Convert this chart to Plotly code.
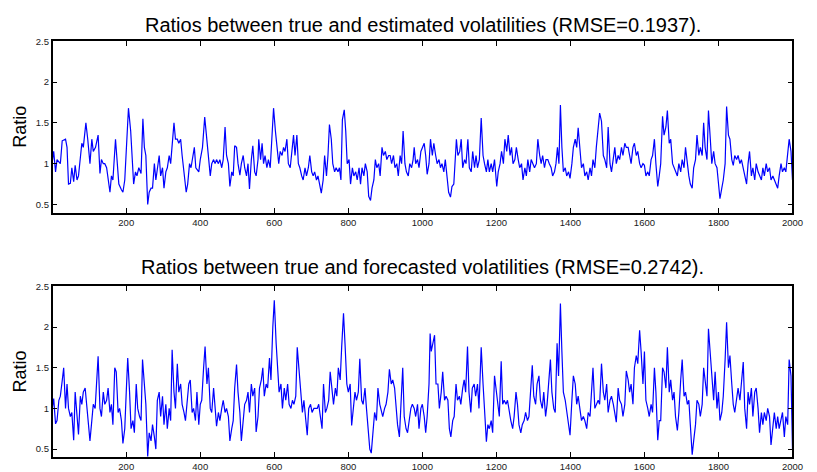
import plotly.graph_objects as go

# ---------------- data ----------------
# Upper panel: ratios between true and estimated volatilities
est_idx_1 = [0,4,9,13,22,27,36,40,44,49,53,58,62,67,71,76,80,84,91,96,
             102,107,111,117,124,129,133,138,142,147,151,156,160,164,171,175,180,187,191,196,
             200,206,212,216,220,225,229,234,240,245,249,253,258,262,267,271,276,280,284,289,
             293,298,302,307,311,316,320,324,329,333,338,342,347,351,356,362,366,371,375,380,
             384,388,396,400,406,412,418,422,427,431,436,440,444,449,453,458,462,467]
est_val_1 = [1.02,1.15,0.9,1.05,1.0,1.28,1.3,1.2,0.75,0.76,0.95,0.78,0.98,0.8,0.85,1.1,1.25,1.2,1.5,1.3,
             1.0,1.3,1.15,1.2,1.35,0.88,1.05,1.0,1.0,0.95,0.8,0.65,0.85,0.8,1.3,1.0,0.75,0.68,0.65,0.8,
             1.1,1.68,1.4,1.1,0.75,0.9,0.85,0.95,0.88,1.55,1.2,1.1,0.5,0.65,0.7,0.7,1.0,0.8,0.95,1.1,
             0.85,0.95,0.7,0.9,0.95,1.1,1.0,1.25,1.5,1.3,1.3,1.25,1.3,1.1,0.9,0.65,0.75,1.0,0.95,1.1,
             1.2,0.95,0.9,1.05,1.2,1.57,1.3,1.1,0.85,1.0,1.05,1.0,1.05,1.0,1.05,0.95,1.05,1.45]
est_idx_2 = [471,476,480,485,489,493,498,502,507,511,516,520,525,529,533,538,542,547,551,556,
             558,563,567,571,575,580,584,589,594,598,603,607,612,616,621,625,629,634,
             638,643,647,652,656,661,665,669,674,678,683,687,692,696,701,705,709,714,718,723,
             727,732,736,741,745,749,754,758,763,767,772,776,780,784,789,793,797,802,806,811,
             815,820,824,829,833,837,842,846,851,855,860,864,869,873,877,882,886,891,895,900,
             904,909,913,917,922,926,931,935,940,944,948,953,957,962,966,971,975]
est_val_2 = [1.1,1.0,0.72,0.9,0.85,1.22,1.2,1.0,0.86,1.0,1.1,0.95,0.85,1.0,0.69,1.05,1.22,0.9,0.85,1.05,
             1.3,1.05,1.25,1.0,1.1,0.95,1.05,0.95,1.38,1.68,1.4,1.2,1.0,1.15,1.1,1.2,1.15,1.3,
             1.0,0.95,1.1,1.35,1.1,1.35,1.0,0.95,0.85,0.8,0.95,0.85,0.95,1.1,0.9,0.85,0.9,0.8,0.85,0.7,
             0.64,0.8,1.1,0.85,1.1,1.48,1.3,1.0,0.9,0.95,0.9,0.95,0.8,1.54,1.66,1.4,1.0,1.05,0.75,0.95,
             0.85,0.9,0.8,0.95,0.75,0.95,0.85,1.0,0.9,0.6,0.55,0.7,0.8,1.05,0.95,1.0,0.85,1.2,1.1,1.15,
             1.05,1.1,1.1,1.0,1.1,0.95,1.0,0.85,1.1,1.0,1.4,1.0,0.9,0.85,1.0,0.95,1.05]
est_idx_3 = [978,982,987,991,996,1000,1005,1009,1013,1018,1022,1027,1031,1036,1040,1045,1049,1053,1058,1062,
             1067,1071,1076,1080,1085,1089,1092,1096,1101,1105,1109,1114,1118,1123,1127,1132,1136,1141,1145,1149,
             1154,1159,1164,1168,1173,1177,1181,1186,1190,1195,1201,1205,1210,1214,1219,1223,1228,1232,1237,1241,
             1245,1250,1254,1259,1263,1268,1272,1277,1281,1285,1290,1294,1299,1303,1308,1312,1317,1321,1325,1330,
             1334,1339,1343,1348,1352,1357,1361,1365,1369,1373,1377,1381,1386,1390,1395,1399,1404,1408,1413,1417,
             1421,1426,1430,1435,1439,1444,1448,1453,1457,1461,1466,1470,1475,1479]
est_val_3 = [1.2,1.0,1.05,0.95,1.15,1.2,1.25,1.1,0.87,1.0,1.3,1.1,1.25,1.1,1.0,1.05,0.95,1.0,0.9,1.05,
             0.85,0.65,0.59,0.72,0.75,1.0,1.3,1.1,1.15,1.3,0.95,1.05,1.0,1.3,0.95,0.9,1.15,0.95,1.1,0.95,
             1.05,1.56,1.1,1.0,0.9,1.05,0.9,1.0,0.9,1.05,0.72,0.9,1.0,1.15,1.0,1.3,1.15,1.35,1.1,1.2,
             1.0,1.05,1.2,1.05,0.95,1.0,0.8,0.95,0.85,1.05,0.9,1.05,1.0,0.95,1.0,1.3,1.1,1.0,1.1,0.95,
             1.05,1.05,1.0,0.95,0.85,0.9,1.0,1.2,1.0,1.72,1.2,0.9,0.95,0.85,0.9,0.82,1.0,1.2,1.3,1.2,
             1.44,1.1,0.95,1.0,0.85,0.9,0.8,0.95,0.85,1.05,0.95,1.2,1.4,1.62]
idx_4 = [1484,1489,1493,1498,1502,1507,1511,1516,1520,1524,1529,1533,1538,1542,1547,1551,1556,1560,1564,1569,
         1573,1578,1582,1587,1591,1596,1600,1604,1609,1613,1618,1622,1627,1631,1636,1640,1644,1649,1653,1658,
         1662,1667,1671,1676,1680,1684,1689,1693,1698,1702,1707,1711,1716,1720,1724,1729,1733,1738,1742,1747,
         1751,1756,1760,1764,1769,1773,1778,1782,1787,1791,1796,1800,1804,1809,1813,1818,1822,1827,1831,1836,
         1840,1844,1849,1853,1858,1862,1867,1871,1876,1880,1884,1889,1893,1898,1902,1907,1911,1916,1920,1924,
         1929,1933,1938,1942,1947,1951,1956,1960,1964,1969,1973,1978,1982,1987,1991,1996,1998,2000]
est_val_4 = [1.52,1.1,1.05,0.95,1.45,1.0,0.9,1.05,1.2,1.0,1.1,1.05,1.2,1.1,1.25,1.2,1.2,1.1,1.0,1.2,
             1.25,1.1,1.15,1.0,0.95,1.0,0.98,0.85,0.9,0.85,1.05,1.1,1.3,1.0,0.72,0.85,1.0,1.58,1.35,1.45,
             1.65,1.25,1.3,1.0,0.95,0.9,0.85,1.0,0.9,1.05,0.95,1.2,0.95,0.85,0.75,0.7,0.95,1.05,1.35,1.1,
             1.2,1.1,1.5,1.2,1.05,1.65,1.3,1.0,1.15,1.0,0.95,0.75,0.57,0.7,0.8,1.0,1.7,1.35,1.3,1.05,
             0.98,1.1,1.05,1.1,1.0,1.05,0.95,0.85,0.75,1.0,1.15,0.85,0.95,0.8,1.0,0.9,0.85,0.8,0.95,0.85,
             1.0,0.9,0.95,0.8,0.85,0.8,0.75,0.7,0.85,1.0,0.9,0.95,0.9,1.1,1.3,1.15,1.0,0.8]

# Lower panel: ratios between true and forecasted volatilities
fc_idx_1 = [0,4,9,13,18,22,27,31,36,40,44,49,53,58,62,67,71,76,80,84,
            89,93,98,102,107,111,116,120,124,129,133,138,142,147,151,156,160,164,169,173,
            178,182,187,191,196,200,204,209,213,218,222,227,231,236,240,244,249,253,258,262,
            267,271,276,280,284,289,293,298,302,307,311,316,320,324,329,333,338,342,347,351,
            356,360,364,369,373,378,382,387,391,396,400,404,409,413,418,422,427,431,436,440,
            444,449,453,458,462,467]
fc_val_1 = [1.0,1.12,0.81,0.85,1.1,1.15,1.34,1.5,1.0,1.3,1.0,0.9,0.95,0.61,1.2,0.85,0.68,1.15,1.05,1.2,
            1.25,1.05,0.8,0.6,0.85,1.05,1.0,1.35,1.64,1.0,0.9,1.2,1.05,1.1,1.25,0.95,1.05,0.8,1.5,1.45,
            0.95,1.0,0.85,0.57,0.75,1.2,1.62,1.2,0.75,0.85,0.7,1.3,1.0,0.9,0.85,1.6,1.3,1.05,0.41,0.7,
            0.6,0.8,0.65,0.5,1.1,1.2,0.9,1.15,0.8,1.05,0.75,1.0,0.85,1.72,1.2,1.0,1.55,1.2,1.3,1.05,
            0.95,0.85,1.05,1.3,1.35,0.95,1.0,0.85,1.2,0.8,1.05,1.1,1.5,1.76,1.3,1.5,1.0,0.95,1.25,1.0,
            0.78,0.95,0.85,1.0,1.1,0.95]
fc_idx_2 = [471,476,480,485,489,493,498,502,507,511,516,520,525,529,533,538,542,547,551,556,
            560,565,569,573,578,582,587,591,596,600,605,609,613,618,622,627,631,636,640,645,
            649,653,658,662,667,671,676,680,685,689,693,698,702,707,711,716,720,725,729,733,
            738,742,747,751,756,760,765,769,773,778,782,787,791,796,800,805,809,813,818,822,
            827,831,836,840,845,849,853,858,862,867,871,876,880,885,889,893,898,902,907,911,
            916,920,925,929,933,938,942,947,951,956,960,965,969,973]
fc_val_2 = [1.0,0.9,0.6,0.75,0.85,1.25,1.54,1.2,0.95,0.6,0.9,1.05,1.1,1.2,0.95,1.3,1.15,1.25,0.71,0.9,
            1.25,1.35,1.5,1.15,1.3,1.25,1.62,1.35,2.0,2.33,1.8,1.55,1.2,1.3,1.0,1.25,1.1,1.3,1.05,1.0,
            1.1,1.05,1.15,1.75,1.5,1.25,0.95,1.1,0.9,0.67,1.0,1.05,0.95,1.0,1.0,1.0,1.05,0.9,0.75,1.3,
            0.95,1.0,1.1,1.45,1.2,1.05,1.25,1.15,1.5,1.35,1.75,2.17,1.8,1.3,1.2,1.3,0.79,0.95,1.2,1.1,
            1.2,1.61,1.1,1.05,1.25,1.0,0.75,0.5,0.45,0.7,0.95,0.85,1.25,1.05,0.95,0.9,1.0,1.05,1.2,1.48,
            1.3,1.35,1.25,1.0,0.8,0.65,1.05,1.5,0.9,0.75,0.7,0.9,1.0,1.05]
fc_idx_3 = [978,982,987,991,996,1000,1005,1009,1013,1018,1021,1024,1029,1033,1037,1042,1046,1051,1055,1060,
            1064,1069,1073,1077,1082,1086,1091,1095,1100,1104,1109,1113,1117,1122,1126,1131,1135,1140,1144,1149,
            1153,1159,1164,1168,1173,1177,1181,1186,1190,1195,1199,1204,1208,1213,1217,1221,1226,1230,1235,1239,
            1244,1248,1253,1257,1261,1266,1270,1275,1279,1284,1288,1293,1297,1301,1306,1310,1315,1319,1324,1328,
            1333,1337,1341,1346,1350,1355,1359,1364,1368,1373,1377,1381,1386,1390,1395,1399,1404,1408,1413,1417,
            1421,1426,1430,1435,1439,1444,1448,1453,1457,1461,1466,1470,1475,1479]
fc_val_3 = [1.0,0.9,1.05,0.75,1.0,1.05,0.9,0.7,0.9,1.3,1.92,1.7,1.8,1.9,1.3,1.3,1.0,1.2,1.45,1.1,
            1.15,1.1,0.75,0.65,0.85,0.9,1.3,1.1,1.15,1.05,1.25,1.35,1.2,1.76,1.2,0.95,1.25,1.3,1.15,1.3,
            1.0,1.75,1.3,0.95,0.59,0.8,0.75,0.85,0.7,1.4,1.25,1.0,0.9,1.58,1.05,1.1,1.05,1.1,0.95,0.85,
            0.75,0.9,1.2,1.05,0.8,0.7,0.8,0.85,0.95,0.85,0.9,1.3,1.53,1.15,1.05,1.3,1.4,1.1,1.0,1.2,
            0.9,1.05,1.3,1.6,1.2,1.0,0.95,1.8,1.4,2.29,1.7,1.2,1.1,0.95,0.8,0.67,1.1,1.4,1.3,1.05,
            1.15,0.95,0.85,0.9,0.85,0.75,0.95,0.9,1.2,1.5,1.0,1.05,1.1,1.05]
fc_val_4 = [1.55,1.2,1.1,1.3,0.95,1.1,1.15,1.05,0.95,0.83,1.25,1.1,1.05,0.9,1.05,1.46,1.35,1.2,1.3,1.05,
            1.5,1.65,1.55,1.96,1.7,1.3,1.7,1.1,1.0,0.9,1.05,0.95,1.5,1.2,0.61,0.85,0.85,1.5,1.45,1.25,
            1.75,1.2,1.35,1.1,1.2,0.9,0.73,0.95,1.35,1.6,1.15,1.2,1.05,1.1,0.8,0.43,0.6,0.8,1.1,1.05,
            0.9,1.05,1.5,1.35,1.15,1.98,1.7,1.45,1.1,1.45,1.0,1.2,0.85,0.95,1.15,1.6,2.06,1.5,1.65,1.3,
            1.05,0.95,1.1,1.25,1.1,1.3,1.57,1.0,0.75,1.2,1.05,1.25,0.9,1.2,1.25,1.0,0.7,0.95,0.8,0.95,
            0.85,1.0,0.9,0.55,0.8,0.95,0.75,0.9,0.75,0.85,0.95,0.65,0.9,0.8,1.6,1.4,1.1,0.5]

x_ticks = [200, 400, 600, 800, 1000, 1200, 1400, 1600, 1800, 2000]
y_ticks = [0.5, 1, 1.5, 2, 2.5]
y_tick_text = ["0.5", "1", "1.5", "2", "2.5"]
titles = ["Ratios between true and estimated volatilities (RMSE=0.1937).",
          "Ratios between true and forecasted volatilities (RMSE=0.2742)."]
y_label = "Ratio"

est_idx = est_idx_1 + est_idx_2 + est_idx_3 + idx_4
est_val = est_val_1 + est_val_2 + est_val_3 + est_val_4
fc_idx = fc_idx_1 + fc_idx_2 + fc_idx_3 + idx_4
fc_val = fc_val_1 + fc_val_2 + fc_val_3 + fc_val_4

# ---------------- figure ----------------
W, H = 817, 472
FONT = "Liberation Sans, Arial, Helvetica, sans-serif"
fig = go.Figure()
fig.add_trace(go.Scatter(x=est_idx, y=est_val, mode="lines",
                         line=dict(color="#0000ff", width=1.2), xaxis="x", yaxis="y",
                         showlegend=False, hoverinfo="x+y"))
fig.add_trace(go.Scatter(x=fc_idx, y=fc_val, mode="lines",
                         line=dict(color="#0000ff", width=1.2), xaxis="x2", yaxis="y2",
                         showlegend=False, hoverinfo="x+y"))

xd = [53.3 / W, 803.3 / W]
top_dom = [(H - 209.3) / H, (H - 35.7) / H]
bot_dom = [(H - 457.0) / H, (H - 284.0) / H]

axis_common = dict(showline=True, linecolor="#000000", linewidth=1.5, mirror="ticks",
                   ticks="inside", ticklen=5, tickwidth=1, tickcolor="#000000",
                   showgrid=False, zeroline=False,
                   tickfont=dict(family=FONT, size=9.5, color="#1a1a1a"))

fig.update_layout(
    width=W, height=H, margin=dict(l=0, r=0, t=0, b=0),
    paper_bgcolor="white", plot_bgcolor="white",
    xaxis=dict(domain=xd, range=[1, 2000], tickvals=x_ticks, anchor="y", **axis_common),
    yaxis=dict(domain=top_dom, range=[0.4, 2.5], tickvals=y_ticks, ticktext=y_tick_text,
               anchor="x", **axis_common),
    xaxis2=dict(domain=xd, range=[1, 2000], tickvals=x_ticks, anchor="y2", **axis_common),
    yaxis2=dict(domain=bot_dom, range=[0.4, 2.5], tickvals=y_ticks, ticktext=y_tick_text,
                anchor="x2", **axis_common),
)

for ttl, dom, ys in zip(titles, [top_dom, bot_dom], [3, 6]):
    fig.add_annotation(text=ttl, xref="paper", yref="paper", x=sum(xd) / 2, y=dom[1],
                       yshift=ys, xanchor="center", yanchor="bottom", showarrow=False,
                       font=dict(family=FONT, size=20, color="#000000"))
    fig.add_annotation(text=y_label, xref="paper", yref="paper", x=20 / W, y=sum(dom) / 2,
                       xanchor="center", yanchor="middle", textangle=-90, showarrow=False,
                       font=dict(family=FONT, size=18, color="#000000"))

fig.write_html("out.html")
